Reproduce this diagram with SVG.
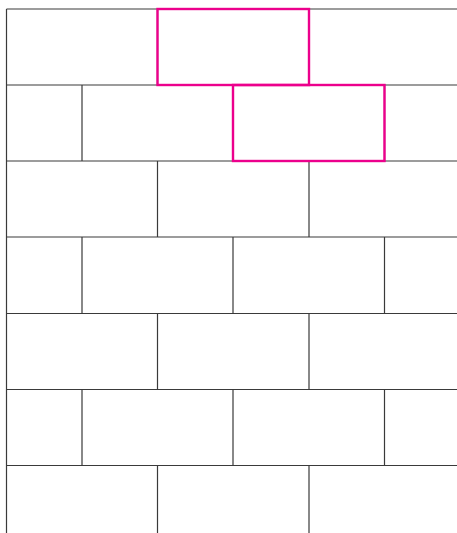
<svg xmlns="http://www.w3.org/2000/svg" width="457" height="533" viewBox="0 0 457 533">
<style>
.l{stroke:#3a3a3a;stroke-width:1.2;fill:none}
.m{stroke:#ec008c;stroke-width:2.4;fill:none}
</style>
<rect width="457" height="533" fill="#fff"/>
<g id="grid" class="l">
<path d="M6.5 9H457M6.5 85H457M6.5 161H457M6.5 237H457M6.5 313.5H457M6.5 389.5H457M6.5 465.5H457"/>
<path d="M6.5 9V533"/>
<path d="M157.5 9V85M309 9V85"/>
<path d="M82 85V161M233 85V161M384.5 85V161"/>
<path d="M157.5 161V237M309 161V237"/>
<path d="M82 237V313.5M233 237V313.5M384.5 237V313.5"/>
<path d="M157.5 313.5V389.5M309 313.5V389.5"/>
<path d="M82 389.5V465.5M233 389.5V465.5M384.5 389.5V465.5"/>
<path d="M157.5 465.5V533M309 465.5V533"/>
</g>
<g id="highlight1"><rect class="m" x="157.5" y="9" width="151.5" height="76"/></g>
<g id="highlight2"><rect class="m" x="233" y="85" width="151.5" height="76"/></g>
</svg>
